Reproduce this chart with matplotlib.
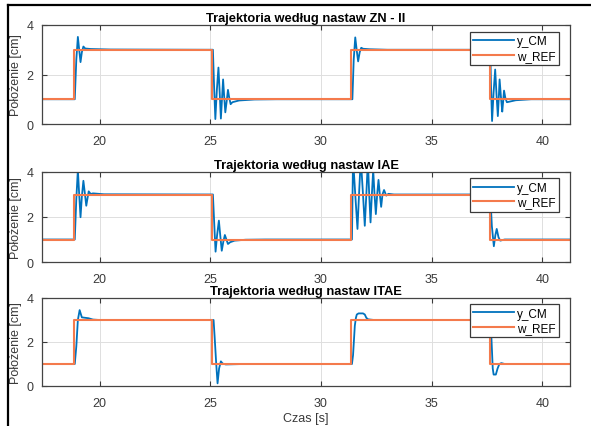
import matplotlib
matplotlib.use("Agg")
import matplotlib.pyplot as plt
from matplotlib.lines import Line2D

plt.rcParams['font.family'] = ['Liberation Sans', 'DejaVu Sans']

# ---- data ----
titles = ["Trajektoria według nastaw ZN - II",
          "Trajektoria według nastaw IAE",
          "Trajektoria według nastaw ITAE"]

# reference trajectory (step levels starting at each switching time)
ref_times = [17.4, 18.85, 25.1, 31.38, 37.63, 41.3]
ref_levels = [1, 3, 1, 3, 1, 1]

# y_CM, ZN - II
t_zn = [17.4, 18.88, 18.95, 19.02, 19.08, 19.14, 19.2, 19.27, 19.35, 19.6, 20.5, 25.12,
        25.17, 25.23, 25.3, 25.37, 25.43, 25.48, 25.53, 25.58, 25.63, 25.68, 25.74, 25.8,
        25.85, 25.92, 26.0, 26.3, 27.0, 28.0, 31.4,
        31.42, 31.48, 31.55, 31.62, 31.68, 31.75, 31.82, 31.9, 32.2, 33.0, 37.65,
        37.68, 37.73, 37.8, 37.87, 37.93, 37.99, 38.03, 38.07, 38.13, 38.19, 38.23, 38.27,
        38.33, 38.4, 38.5, 38.8, 39.5, 41.3]
y_zn = [1.0, 1.0, 2.6, 3.52, 3.0, 2.5, 2.9, 3.13, 3.05, 3.03, 3.01, 3.0,
        1.6, 0.2, 1.4, 2.28, 1.2, 0.22, 1.0, 1.8, 1.1, 0.47, 0.9, 1.38,
        1.1, 0.8, 0.88, 0.95, 0.99, 1.0, 1.0,
        1.0, 2.6, 3.5, 2.95, 2.53, 2.9, 3.08, 3.04, 3.02, 3.0, 3.0,
        1.6, 0.12, 1.3, 2.2, 1.2, 0.32, 1.0, 1.8, 1.1, 0.5, 0.9, 1.35,
        1.05, 0.88, 0.9, 0.96, 1.0, 1.0]

# y_CM, IAE
t_iae = [17.4, 18.88, 18.95, 19.02, 19.08, 19.14, 19.2, 19.27, 19.33, 19.4, 19.45, 19.51,
         19.6, 19.7, 20.2, 25.12,
         25.18, 25.24, 25.31, 25.39, 25.45, 25.52, 25.59, 25.66, 25.73, 25.8, 25.9, 26.1,
         26.6, 27.5, 31.4,
         31.45, 31.55, 31.65, 31.72, 31.8, 31.9, 31.98, 32.05, 32.12, 32.18, 32.24, 32.3,
         32.36, 32.42, 32.48, 32.54, 32.6, 32.66, 32.72, 32.78, 32.85, 32.95, 33.05, 33.3,
         37.65, 37.72, 37.81, 37.88, 37.94, 38.02, 38.1, 38.3, 41.3]
y_iae = [1.0, 1.0, 2.8, 4.1, 3.0, 1.99, 2.9, 3.61, 3.1, 2.5, 2.8, 3.14,
         3.02, 3.05, 3.01, 3.0,
         1.7, 0.46, 1.2, 1.84, 1.2, 0.5, 0.9, 1.2, 1.0, 0.8, 0.88, 0.95,
         0.99, 1.0, 1.0,
         4.6, 3.0, 1.47, 3.0, 4.6, 3.0, 1.61, 3.0, 4.5, 3.0, 1.76, 3.0,
         4.1, 3.0, 2.13, 3.0, 3.65, 3.0, 2.45, 3.0, 3.2, 2.95, 3.03, 3.0,
         3.0, 1.6, 0.7, 1.2, 1.47, 1.1, 0.95, 1.0, 1.0]

# y_CM, ITAE
t_itae = [17.4, 18.88, 18.95, 19.02, 19.1, 19.2, 19.35, 19.5, 19.7, 20.0, 25.12,
          25.15, 25.2, 25.27, 25.33, 25.4, 25.48, 25.56, 25.7, 26.5, 31.4,
          31.45, 31.53, 31.58, 31.62, 31.7, 31.9, 31.98, 32.05, 32.13, 32.4, 37.65,
          37.7, 37.76, 37.8, 37.9, 37.98, 38.06, 38.15, 38.3, 41.3]
y_itae = [1.0, 1.0, 1.8, 3.0, 3.45, 3.12, 3.1, 3.08, 3.02, 3.0, 3.0,
          3.0, 2.2, 1.0, 0.12, 0.8, 1.12, 1.02, 0.98, 1.0, 1.0,
          1.4, 2.74, 3.1, 3.25, 3.3, 3.3, 3.25, 3.1, 3.03, 3.0, 3.0,
          2.2, 0.8, 0.52, 0.52, 0.8, 1.0, 1.04, 1.0, 1.0]

series = [(t_zn, y_zn), (t_iae, y_iae), (t_itae, y_itae)]
x_ticks = [20, 25, 30, 35, 40]
y_ticks = [0, 2, 4]

# ---- figure ----
W, H = 591, 427
fig = plt.figure(figsize=(W / 100, H / 100), dpi=100)
fig.patch.set_facecolor('white')

# pixel boxes (left, top, right, bottom)
boxes = [(42, 26, 570, 125), (42, 173, 570, 263), (42, 299, 570, 387)]
legend_tops = [0.93, 0.93, 0.932]

blue = '#0072BD'
orange = '#F47A4C'
gray = '#3a3a3a'

axes = []
for i, (l, t, r, b) in enumerate(boxes):
    ax = fig.add_axes([l / W, (H - b) / H, (r - l) / W, (b - t) / H])
    axes.append(ax)
    tt, yy = series[i]
    ax.plot(tt, yy, color=blue, lw=1.3, label='y_CM')
    ax.plot(ref_times, ref_levels, drawstyle='steps-post', color=orange, lw=1.5, label='w_REF')
    ax.set_xlim(17.4, 41.25)
    ax.set_ylim(0, 4)
    ax.set_xticks(x_ticks)
    ax.set_yticks(y_ticks)
    ax.grid(True, color='#dedede', lw=0.7)
    ax.set_axisbelow(True)
    ax.tick_params(axis='both', direction='in', top=True, right=True, length=3.5,
                   width=0.8, colors=gray, labelsize=9)
    ax.tick_params(axis='x', pad=8)
    ax.tick_params(axis='y', pad=6)
    for s in ax.spines.values():
        s.set_color('#444444')
        s.set_linewidth(0.9)
    ax.set_title(titles[i], fontsize=9.3, fontweight='bold', pad=3)
    ax.set_ylabel('Położenie [cm]', fontsize=9, color=gray, labelpad=3)
    leg = ax.legend(loc='upper right', bbox_to_anchor=(0.979, legend_tops[i]),
                    borderaxespad=0, fontsize=8.5, frameon=True, fancybox=False,
                    edgecolor=gray, framealpha=1, handlelength=3.5,
                    borderpad=0.3, labelspacing=0.2, handletextpad=0.2)
    leg.get_frame().set_linewidth(0.9)

axes[-1].set_xlabel('Czas [s]', fontsize=9, color=gray, labelpad=2)

# black frame on left and top
fig.add_artist(Line2D([8 / W, 8 / W], [0, 1 - 6 / H], transform=fig.transFigure,
                      color='black', lw=1.6))
fig.add_artist(Line2D([8 / W, 1], [1 - 6 / H, 1 - 6 / H], transform=fig.transFigure,
                      color='black', lw=1.6))

fig.savefig('out.png', dpi=100)
